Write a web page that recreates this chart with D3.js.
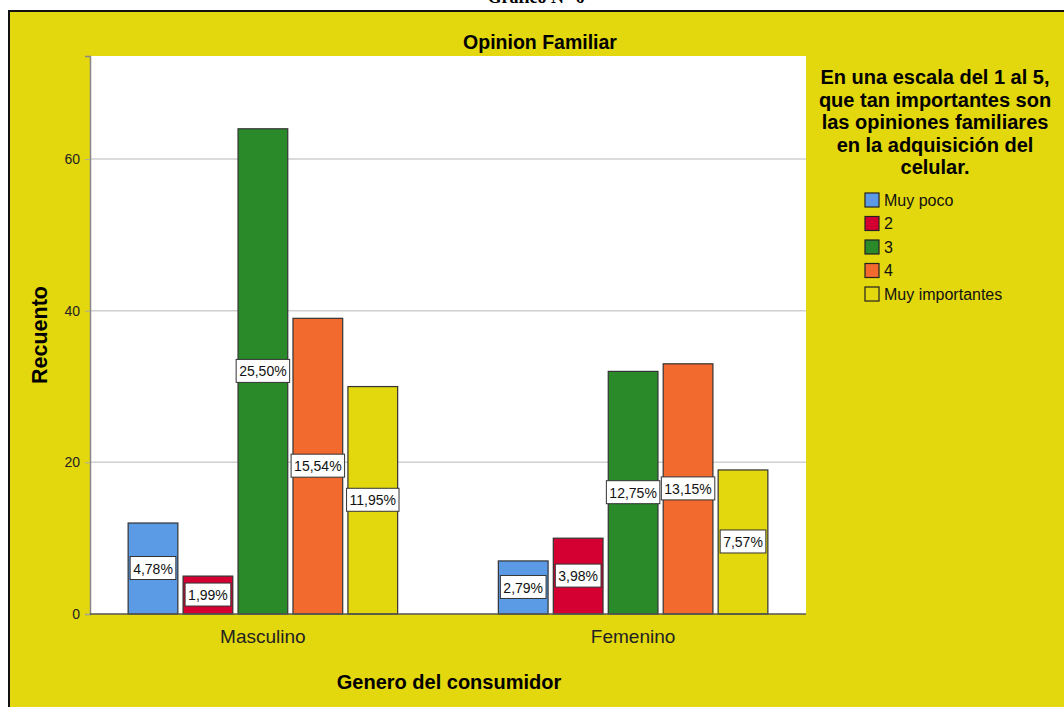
<!DOCTYPE html>
<html>
<head>
<meta charset="utf-8">
<script src="https://cdn.jsdelivr.net/npm/d3@7"></script>
<style>
  html, body { margin: 0; padding: 0; background: #ffffff; }
  svg { display: block; }
</style>
</head>
<body>
<svg id="chart" width="1064" height="707"></svg>
<script>
const categories = ["Masculino", "Femenino"];
const series = ["Muy poco", "2", "3", "4", "Muy importantes"];
const masculino = [12, 5, 64, 39, 30];
const femenino = [7, 10, 32, 33, 19];
const yTicks = [0, 20, 40, 60];
const colors = ["#5b9be6", "#d50032", "#2a8a2a", "#f26a2e", "#e3d70e"];
const legendTitle = ["En una escala del 1 al 5,", "que tan importantes son", "las opiniones familiares", "en la adquisición del", "celular."];

const valuesByCat = { "Masculino": masculino, "Femenino": femenino };
const total = d3.sum(masculino) + d3.sum(femenino);

const svg = d3.select("#chart");
const W = 1064, H = 707;
const bg = "#e3d70e";
const sans = "'Liberation Sans', Arial, sans-serif";

// page title (cut off at the top, as in the reference)
svg.append("text").attr("x", 536).attr("y", 3).attr("text-anchor", "middle")
  .attr("font-family", "'Liberation Serif', 'Times New Roman', serif").attr("font-weight", "bold")
  .attr("font-size", 18).attr("fill", "#000").text("Gráfico N° 6");

// panel
svg.append("rect").attr("x", 9).attr("y", 11).attr("width", W).attr("height", H)
  .attr("fill", bg).attr("stroke", "#111").attr("stroke-width", 2);

const plot = { left: 90, right: 806, top: 56, bottom: 614 };

svg.append("rect").attr("x", plot.left).attr("y", plot.top)
  .attr("width", plot.right - plot.left).attr("height", plot.bottom - plot.top).attr("fill", "#fff");

const y = d3.scaleLinear().domain([0, 73.6]).range([plot.bottom, plot.top]);
const x0 = d3.scaleBand().domain(categories).range([plot.left, plot.right])
  .paddingInner(0.272).paddingOuter(0.103);
const x1 = d3.scaleBand().domain(series).range([0, x0.bandwidth()]).paddingInner(0.095);

// gridlines
svg.append("g").selectAll("line").data(yTicks.filter(d => d > 0)).join("line")
  .attr("x1", plot.left).attr("x2", plot.right)
  .attr("y1", d => y(d)).attr("y2", d => y(d))
  .attr("stroke", "#cfcfcf").attr("stroke-width", 1.5);

// y axis
const yAxis = d3.axisLeft(y).tickValues(yTicks).tickSize(5).tickPadding(5);
const gy = svg.append("g").attr("transform", `translate(${plot.left},0)`).call(yAxis);
gy.select(".domain").attr("stroke", "#888").attr("stroke-width", 1.5);
gy.selectAll(".tick line").attr("stroke", "#aaa");
gy.selectAll(".tick text").attr("font-family", sans).attr("font-size", 14).attr("fill", "#222");

// bars
const groups = svg.append("g").selectAll("g").data(categories).join("g")
  .attr("transform", d => `translate(${x0(d)},0)`);

groups.selectAll("rect").data(c => valuesByCat[c].map((v, i) => ({ c, s: series[i], v, i })))
  .join("rect")
  .attr("x", d => x1(d.s)).attr("width", x1.bandwidth())
  .attr("y", d => y(d.v)).attr("height", d => y(0) - y(d.v))
  .attr("fill", d => colors[d.i]).attr("stroke", "#333").attr("stroke-width", 1.2);

// x axis baseline
svg.append("line").attr("x1", plot.left).attr("x2", plot.right)
  .attr("y1", plot.bottom).attr("y2", plot.bottom).attr("stroke", "#555").attr("stroke-width", 1.5);

// value labels
const fmt = v => (v / total * 100).toFixed(2).replace(".", ",") + "%";
const labs = groups.selectAll("g.lab").data(c => valuesByCat[c].map((v, i) => ({ c, s: series[i], v, i })))
  .join("g").attr("class", "lab")
  .attr("transform", d => `translate(${x1(d.s) + x1.bandwidth() / 2},${y(d.v / 2)})`);
labs.each(function(d) {
  const g = d3.select(this);
  const t = g.append("text").attr("text-anchor", "middle").attr("dy", "0.36em")
    .attr("font-family", sans).attr("font-size", 14).attr("fill", "#111").text(fmt(d.v));
  const w = t.node().getComputedTextLength() + 6;
  g.insert("rect", "text").attr("x", -w / 2).attr("y", -12).attr("width", w).attr("height", 23)
    .attr("fill", "#fff").attr("stroke", "#333").attr("stroke-width", 1);
});

// category labels
svg.append("g").selectAll("text").data(categories).join("text")
  .attr("x", d => x0(d) + x0.bandwidth() / 2).attr("y", 643)
  .attr("text-anchor", "middle").attr("font-family", sans).attr("font-size", 19).attr("fill", "#222")
  .text(d => d);

// titles
svg.append("text").attr("x", 540).attr("y", 49).attr("text-anchor", "middle")
  .attr("font-family", sans).attr("font-weight", "bold").attr("font-size", 19.5).attr("fill", "#000")
  .text("Opinion Familiar");

svg.append("text").attr("x", 449).attr("y", 689).attr("text-anchor", "middle")
  .attr("font-family", sans).attr("font-weight", "bold").attr("font-size", 20).attr("fill", "#000")
  .text("Genero del consumidor");

svg.append("text").attr("transform", `translate(47,335) rotate(-90)`).attr("text-anchor", "middle")
  .attr("font-family", sans).attr("font-weight", "bold").attr("font-size", 21.5).attr("fill", "#000")
  .text("Recuento");

// legend
const lt = svg.append("text").attr("text-anchor", "middle").attr("font-family", sans)
  .attr("font-weight", "bold").attr("font-size", 20).attr("fill", "#000");
legendTitle.forEach((line, i) => {
  lt.append("tspan").attr("x", 935).attr("y", 84 + i * 22.5).text(line);
});

const leg = svg.append("g").selectAll("g").data(series).join("g")
  .attr("transform", (d, i) => `translate(865,${200 + i * 23.5})`);
leg.append("rect").attr("x", 0).attr("y", -7).attr("width", 14).attr("height", 14)
  .attr("fill", (d, i) => colors[i]).attr("stroke", "#222").attr("stroke-width", 1.2);
leg.append("text").attr("x", 19).attr("y", 0).attr("dy", "0.36em")
  .attr("font-family", sans).attr("font-size", 16).attr("fill", "#111").text(d => d);
</script>
</body>
</html>
